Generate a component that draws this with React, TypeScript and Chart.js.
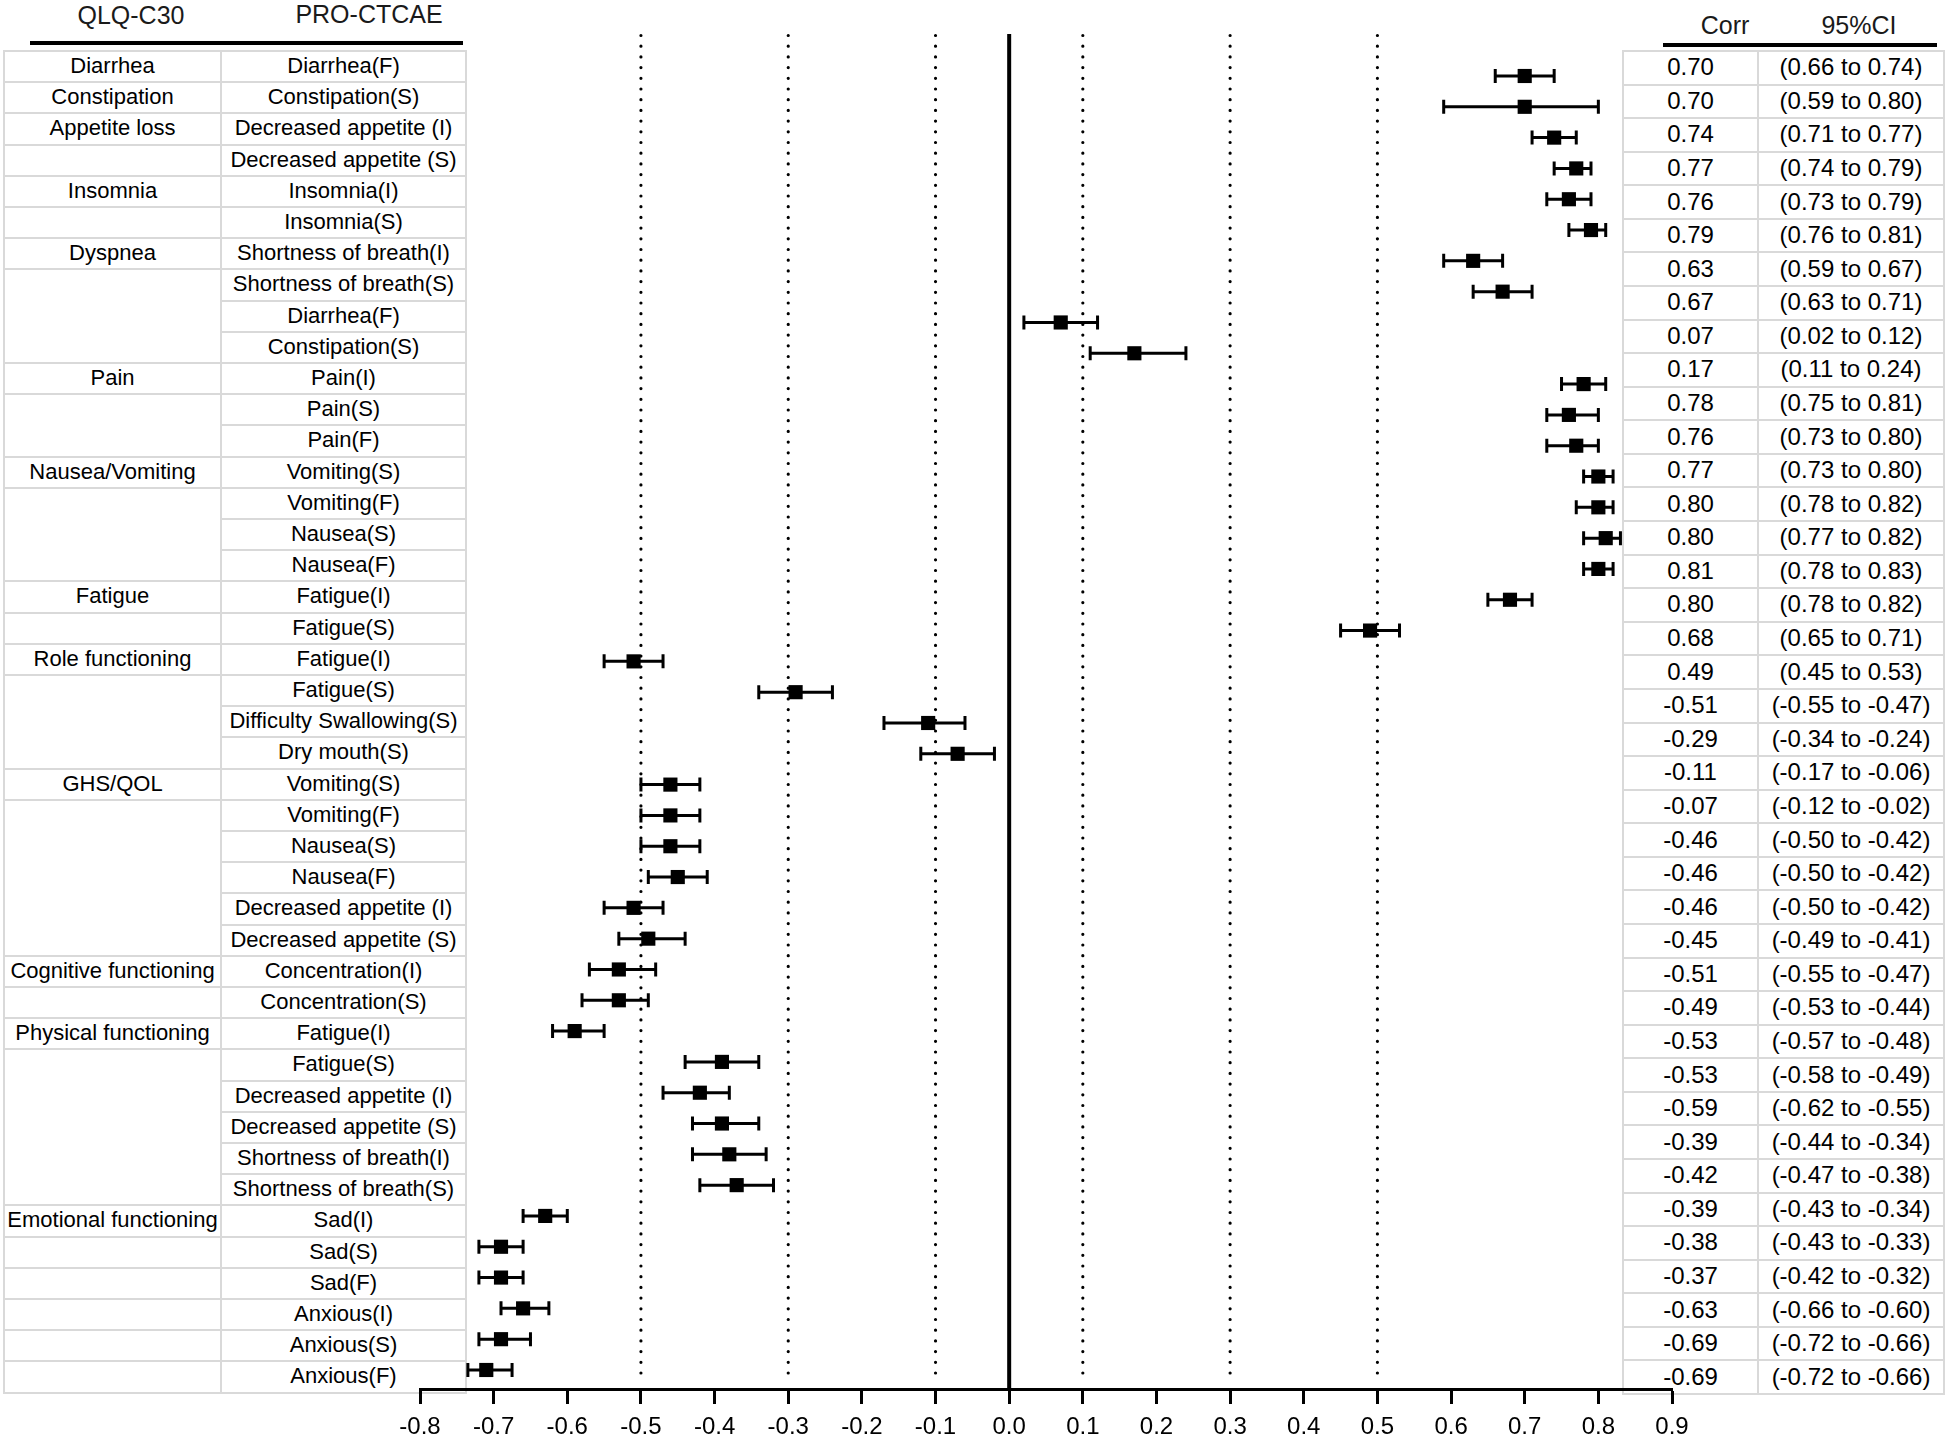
import React, { useEffect, useRef } from "react";
import { Chart, registerables } from "chart.js";

Chart.register(...registerables);

// ---------------- data ----------------
const QLQ_GROUPS: [string, number][] = [
  ["Diarrhea", 1], ["Constipation", 1], ["Appetite loss", 1], ["", 1],
  ["Insomnia", 1], ["", 1], ["Dyspnea", 1], ["", 3], ["Pain", 1], ["", 2],
  ["Nausea/Vomiting", 1], ["", 3], ["Fatigue", 1], ["", 1],
  ["Role functioning", 1], ["", 3], ["GHS/QOL", 1], ["", 5],
  ["Cognitive functioning", 1], ["", 1], ["Physical functioning", 1], ["", 5],
  ["Emotional functioning", 1], ["", 1], ["", 1], ["", 1], ["", 1], ["", 1],
];

const PRO_ITEMS: string[] = [
  "Diarrhea(F)", "Constipation(S)", "Decreased appetite (I)", "Decreased appetite (S)",
  "Insomnia(I)", "Insomnia(S)", "Shortness of breath(I)", "Shortness of breath(S)",
  "Diarrhea(F)", "Constipation(S)", "Pain(I)", "Pain(S)", "Pain(F)",
  "Vomiting(S)", "Vomiting(F)", "Nausea(S)", "Nausea(F)", "Fatigue(I)", "Fatigue(S)",
  "Fatigue(I)", "Fatigue(S)", "Difficulty Swallowing(S)", "Dry mouth(S)",
  "Vomiting(S)", "Vomiting(F)", "Nausea(S)", "Nausea(F)",
  "Decreased appetite (I)", "Decreased appetite (S)",
  "Concentration(I)", "Concentration(S)", "Fatigue(I)", "Fatigue(S)",
  "Decreased appetite (I)", "Decreased appetite (S)",
  "Shortness of breath(I)", "Shortness of breath(S)",
  "Sad(I)", "Sad(S)", "Sad(F)", "Anxious(I)", "Anxious(S)", "Anxious(F)",
];

const CORR: number[] = [
  0.70, 0.70, 0.74, 0.77, 0.76, 0.79, 0.63, 0.67, 0.07, 0.17,
  0.78, 0.76, 0.77, 0.80, 0.80, 0.81, 0.80, 0.68, 0.49, -0.51,
  -0.29, -0.11, -0.07, -0.46, -0.46, -0.46, -0.45, -0.51, -0.49, -0.53,
  -0.53, -0.59, -0.39, -0.42, -0.39, -0.38, -0.37, -0.63, -0.69, -0.69,
  -0.66, -0.69, -0.71,
];
const CI_LOW: number[] = [
  0.66, 0.59, 0.71, 0.74, 0.73, 0.76, 0.59, 0.63, 0.02, 0.11,
  0.75, 0.73, 0.73, 0.78, 0.77, 0.78, 0.78, 0.65, 0.45, -0.55,
  -0.34, -0.17, -0.12, -0.50, -0.50, -0.50, -0.49, -0.55, -0.53, -0.57,
  -0.58, -0.62, -0.44, -0.47, -0.43, -0.43, -0.42, -0.66, -0.72, -0.72,
  -0.69, -0.72, -0.735,
];
const CI_HIGH: number[] = [
  0.74, 0.80, 0.77, 0.79, 0.79, 0.81, 0.67, 0.71, 0.12, 0.24,
  0.81, 0.80, 0.80, 0.82, 0.82, 0.83, 0.82, 0.71, 0.53, -0.47,
  -0.24, -0.06, -0.02, -0.42, -0.42, -0.42, -0.41, -0.47, -0.44, -0.48,
  -0.49, -0.55, -0.34, -0.38, -0.34, -0.33, -0.32, -0.60, -0.66, -0.66,
  -0.625, -0.65, -0.675,
];

const CORR_TEXT: string[] = [
  "0.70", "0.70", "0.74", "0.77", "0.76", "0.79", "0.63", "0.67", "0.07", "0.17",
  "0.78", "0.76", "0.77", "0.80", "0.80", "0.81", "0.80", "0.68", "0.49", "-0.51",
  "-0.29", "-0.11", "-0.07", "-0.46", "-0.46", "-0.46", "-0.45", "-0.51", "-0.49", "-0.53",
  "-0.53", "-0.59", "-0.39", "-0.42", "-0.39", "-0.38", "-0.37", "-0.63", "-0.69", "-0.69",
];
const CI_TEXT: string[] = [
  "(0.66 to 0.74)", "(0.59 to 0.80)", "(0.71 to 0.77)", "(0.74 to 0.79)", "(0.73 to 0.79)",
  "(0.76 to 0.81)", "(0.59 to 0.67)", "(0.63 to 0.71)", "(0.02 to 0.12)", "(0.11 to 0.24)",
  "(0.75 to 0.81)", "(0.73 to 0.80)", "(0.73 to 0.80)", "(0.78 to 0.82)", "(0.77 to 0.82)",
  "(0.78 to 0.83)", "(0.78 to 0.82)", "(0.65 to 0.71)", "(0.45 to 0.53)", "(-0.55 to -0.47)",
  "(-0.34 to -0.24)", "(-0.17 to -0.06)", "(-0.12 to -0.02)", "(-0.50 to -0.42)", "(-0.50 to -0.42)",
  "(-0.50 to -0.42)", "(-0.49 to -0.41)", "(-0.55 to -0.47)", "(-0.53 to -0.44)", "(-0.57 to -0.48)",
  "(-0.58 to -0.49)", "(-0.62 to -0.55)", "(-0.44 to -0.34)", "(-0.47 to -0.38)", "(-0.43 to -0.34)",
  "(-0.43 to -0.33)", "(-0.42 to -0.32)", "(-0.66 to -0.60)", "(-0.72 to -0.66)", "(-0.72 to -0.66)",
];

const X_MIN = -0.8;
const X_MAX = 0.9;
const X_STEP = 0.1;
const REF_LINES: number[] = [-0.5, -0.3, -0.1, 0.1, 0.3, 0.5];

// ---------------- layout / style ----------------
const W = 1946;
const H = 1435;
const FONT = "'Liberation Sans', Arial, Helvetica, sans-serif";
const GRID = "#d9d9d9";
const LT = { x0: 3, x1: 220, x2: 465, top: 50, rowH: 31.2 };
const RT = { x0: 1622, x1: 1757, x2: 1943, top: 50, rowH: 33.575 };

const forestPlugin = {
  id: "forest",
  beforeDatasetsDraw(chart: any) {
    const { ctx, chartArea, scales } = chart;
    const x = scales.x;
    const y = scales.y;
    ctx.save();
    ctx.strokeStyle = "#000";
    // dotted reference lines
    ctx.lineWidth = 3.2;
    ctx.lineCap = "round";
    ctx.setLineDash([0, 10.7]);
    for (const v of REF_LINES) {
      const px = x.getPixelForValue(v);
      ctx.beginPath();
      ctx.moveTo(px, chartArea.top + 1.5);
      ctx.lineTo(px, chartArea.bottom - 6);
      ctx.stroke();
    }
    ctx.setLineDash([]);
    ctx.lineCap = "butt";
    // zero line
    ctx.lineWidth = 4;
    const zx = x.getPixelForValue(0);
    ctx.beginPath();
    ctx.moveTo(zx, chartArea.top);
    ctx.lineTo(zx, chartArea.bottom);
    ctx.stroke();
    // confidence intervals
    ctx.lineWidth = 3;
    for (let i = 0; i < CORR.length; i++) {
      const py = y.getPixelForValue(i + 1);
      const a = x.getPixelForValue(CI_LOW[i]);
      const b = x.getPixelForValue(CI_HIGH[i]);
      ctx.beginPath();
      ctx.moveTo(a, py);
      ctx.lineTo(b, py);
      ctx.moveTo(a, py - 7);
      ctx.lineTo(a, py + 7);
      ctx.moveTo(b, py - 7);
      ctx.lineTo(b, py + 7);
      ctx.stroke();
    }
    ctx.restore();
  },
};

const cellBase: React.CSSProperties = {
  position: "absolute",
  boxSizing: "border-box",
  borderTop: `2px solid ${GRID}`,
  borderLeft: `2px solid ${GRID}`,
  display: "flex",
  alignItems: "center",
  justifyContent: "center",
  whiteSpace: "nowrap",
  lineHeight: 1,
  color: "#000",
  fontFamily: FONT,
  paddingBottom: 3,
};

function LeftTable() {
  const cells: React.ReactNode[] = [];
  let r = 0;
  QLQ_GROUPS.forEach(([label, span], gi) => {
    cells.push(
      <div key={"g" + gi} style={{ ...cellBase, left: LT.x0, top: LT.top + r * LT.rowH, width: LT.x1 - LT.x0, height: span * LT.rowH + 2, fontSize: 22, alignItems: span > 1 ? "flex-start" : "center" }}>
        {label}
      </div>
    );
    r += span;
  });
  PRO_ITEMS.forEach((label, i) => {
    cells.push(
      <div key={"p" + i} style={{ ...cellBase, left: LT.x1, top: LT.top + i * LT.rowH, width: LT.x2 - LT.x1, height: LT.rowH + 2, fontSize: 22 }}>
        {label}
      </div>
    );
  });
  const total = PRO_ITEMS.length * LT.rowH;
  cells.push(<div key="rb" style={{ position: "absolute", left: LT.x2, top: LT.top, width: 2, height: total + 2, background: GRID }} />);
  cells.push(<div key="bb" style={{ position: "absolute", left: LT.x0, top: LT.top + total, width: LT.x2 - LT.x0 + 2, height: 2, background: GRID }} />);
  return <>{cells}</>;
}

function RightTable() {
  const cells: React.ReactNode[] = [];
  CORR_TEXT.forEach((t, i) => {
    cells.push(
      <div key={"c" + i} style={{ ...cellBase, left: RT.x0, top: RT.top + i * RT.rowH, width: RT.x1 - RT.x0, height: RT.rowH + 2, fontSize: 24 }}>
        {t}
      </div>
    );
    cells.push(
      <div key={"i" + i} style={{ ...cellBase, left: RT.x1, top: RT.top + i * RT.rowH, width: RT.x2 - RT.x1, height: RT.rowH + 2, fontSize: 24 }}>
        {CI_TEXT[i]}
      </div>
    );
  });
  const total = CORR_TEXT.length * RT.rowH;
  cells.push(<div key="rb" style={{ position: "absolute", left: RT.x2, top: RT.top, width: 2, height: total + 2, background: GRID }} />);
  cells.push(<div key="bb" style={{ position: "absolute", left: RT.x0, top: RT.top + total, width: RT.x2 - RT.x0 + 2, height: 2, background: GRID }} />);
  return <>{cells}</>;
}

function Header({ text, cx, cy, size }: { text: string; cx: number; cy: number; size: number }) {
  return (
    <div style={{ position: "absolute", left: cx - 150, width: 300, top: cy - size / 2, height: size, lineHeight: 1, fontSize: size, textAlign: "center", fontFamily: FONT, color: "#1a1a1a", whiteSpace: "nowrap" }}>
      {text}
    </div>
  );
}

export default function App() {
  const canvasRef = useRef<HTMLCanvasElement | null>(null);

  useEffect(() => {
    document.body.style.margin = "0";
    const canvas = canvasRef.current;
    if (!canvas) return;
    const chart = new Chart(canvas, {
      type: "scatter",
      data: {
        datasets: [
          {
            data: CORR.map((c, i) => ({ x: c, y: i + 1 })),
            pointStyle: "rect",
            pointRadius: 10,
            pointHoverRadius: 10,
            backgroundColor: "#000",
            borderColor: "#000",
            borderWidth: 0,
            showLine: false,
          },
        ],
      },
      options: {
        responsive: false,
        animation: false,
        devicePixelRatio: 1,
        layout: { padding: { left: 420, right: 274, top: 34, bottom: 0 } },
        plugins: { legend: { display: false }, tooltip: { enabled: false } },
        scales: {
          x: {
            type: "linear",
            min: X_MIN,
            max: X_MAX,
            afterFit: (s: any) => {
              s.height = 46;
            },
            ticks: {
              stepSize: X_STEP,
              autoSkip: false,
              maxRotation: 0,
              padding: 9,
              color: "#000",
              font: { family: FONT, size: 24 },
              callback: (v: any) => {
                const n = Math.round(Number(v) * 10) / 10;
                return (n === 0 ? 0 : n).toFixed(1);
              },
            },
            grid: { drawOnChartArea: false, drawTicks: true, tickLength: 15, tickWidth: 3, tickColor: "#000" },
            border: { display: true, color: "#000", width: 3 },
          },
          y: { type: "linear", display: false, reverse: true, min: -0.363, max: 43.617 },
        },
      },
      plugins: [forestPlugin],
    } as any);
    return () => chart.destroy();
  }, []);

  return (
    <div style={{ position: "absolute", left: 0, top: 0, width: W, height: H, overflow: "hidden", background: "#fff", fontFamily: FONT }}>
      <LeftTable />
      <RightTable />
      <Header text="QLQ-C30" cx={131} cy={15} size={25} />
      <Header text="PRO-CTCAE" cx={369} cy={14} size={25} />
      <Header text="Corr" cx={1725} cy={25} size={25} />
      <Header text="95%CI" cx={1859} cy={25} size={25} />
      <div style={{ position: "absolute", left: 30, top: 41, width: 433, height: 3.5, background: "#000" }} />
      <div style={{ position: "absolute", left: 1663, top: 43, width: 274, height: 4, background: "#000" }} />
      <canvas ref={canvasRef} width={W} height={H} style={{ position: "absolute", left: 0, top: 0, width: W, height: H, pointerEvents: "none" }} />
    </div>
  );
}
